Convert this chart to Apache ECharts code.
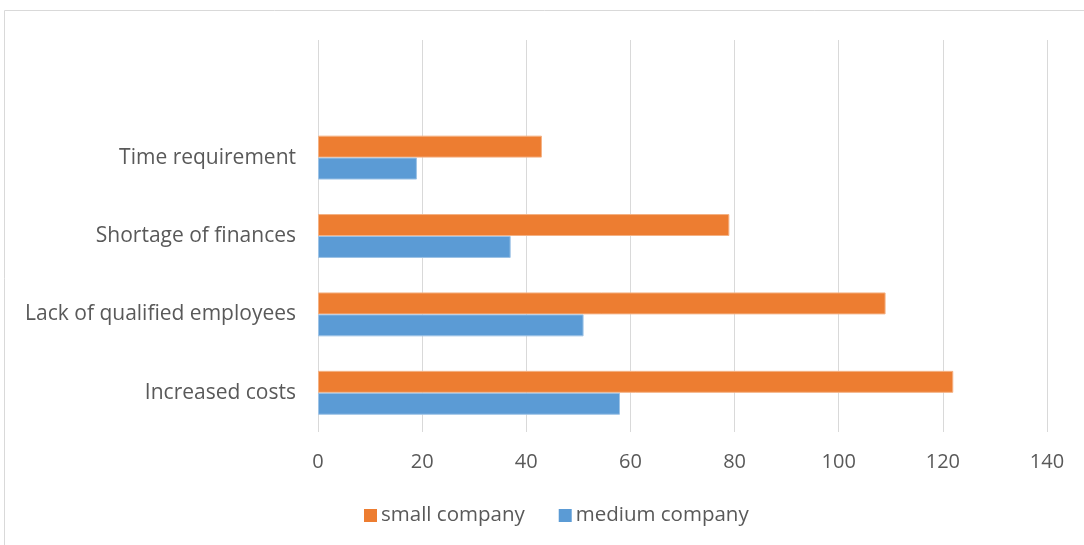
<!DOCTYPE html>
<html><head><meta charset="utf-8">
<script src="https://cdn.jsdelivr.net/npm/echarts@6/dist/echarts.min.js"></script>
<style>html,body{margin:0;padding:0;background:#fff}#c{width:1084px;height:545px}</style>
</head><body><div id="c"></div>
<script>
const categories = ['Increased costs', 'Lack of qualified employees', 'Shortage of finances', 'Time requirement', ''];
const smallCompany = [122, 109, 79, 43, null];
const mediumCompany = [58, 51, 37, 19, null];
const xTicks = [0, 20, 40, 60, 80, 100, 120, 140];

const chart = echarts.init(document.getElementById('c'), null, {renderer: 'canvas'});
const font = 'Open Sans';
chart.setOption({
  animation: false,
  graphic: [{type: 'rect', shape: {x: 4.5, y: 10.5, width: 1200, height: 600}, style: {fill: 'none', stroke: '#d9d9d9', lineWidth: 1}, silent: true}],
  grid: {left: 318, right: 37, top: 40, bottom: 113, containLabel: false},
  legend: {
    data: ['small company', 'medium company'],
    bottom: 14, left: 359, itemWidth: 13, itemHeight: 13, itemGap: 34, icon: 'rect',
    itemStyle: {borderWidth: 0},
    textStyle: {color: '#595959', fontSize: 20.5, fontFamily: font, padding: [0, 0, 0, -1]}
  },
  xAxis: {
    type: 'value', min: xTicks[0], max: xTicks[xTicks.length - 1], interval: 20,
    axisLine: {show: false}, axisTick: {show: false},
    axisLabel: {color: '#595959', fontSize: 20, fontFamily: font, margin: 20},
    splitLine: {lineStyle: {color: '#d9d9d9', width: 1}}
  },
  yAxis: {
    type: 'category', data: categories,
    axisLine: {show: false}, axisTick: {show: false},
    axisLabel: {color: '#595959', fontSize: 21, fontFamily: font, margin: 22},
    splitLine: {show: false}
  },
  series: [
    {name: 'small company', type: 'bar', data: smallCompany, barGap: '0%', barCategoryGap: '44%',
     itemStyle: {color: '#ED7D31', borderColor: '#f4b183', borderWidth: 1}},
    {name: 'medium company', type: 'bar', data: mediumCompany, barGap: '0%', barCategoryGap: '44%',
     itemStyle: {color: '#5B9BD5', borderColor: '#9dc3e6', borderWidth: 1}}
  ]
});
</script></body></html>
